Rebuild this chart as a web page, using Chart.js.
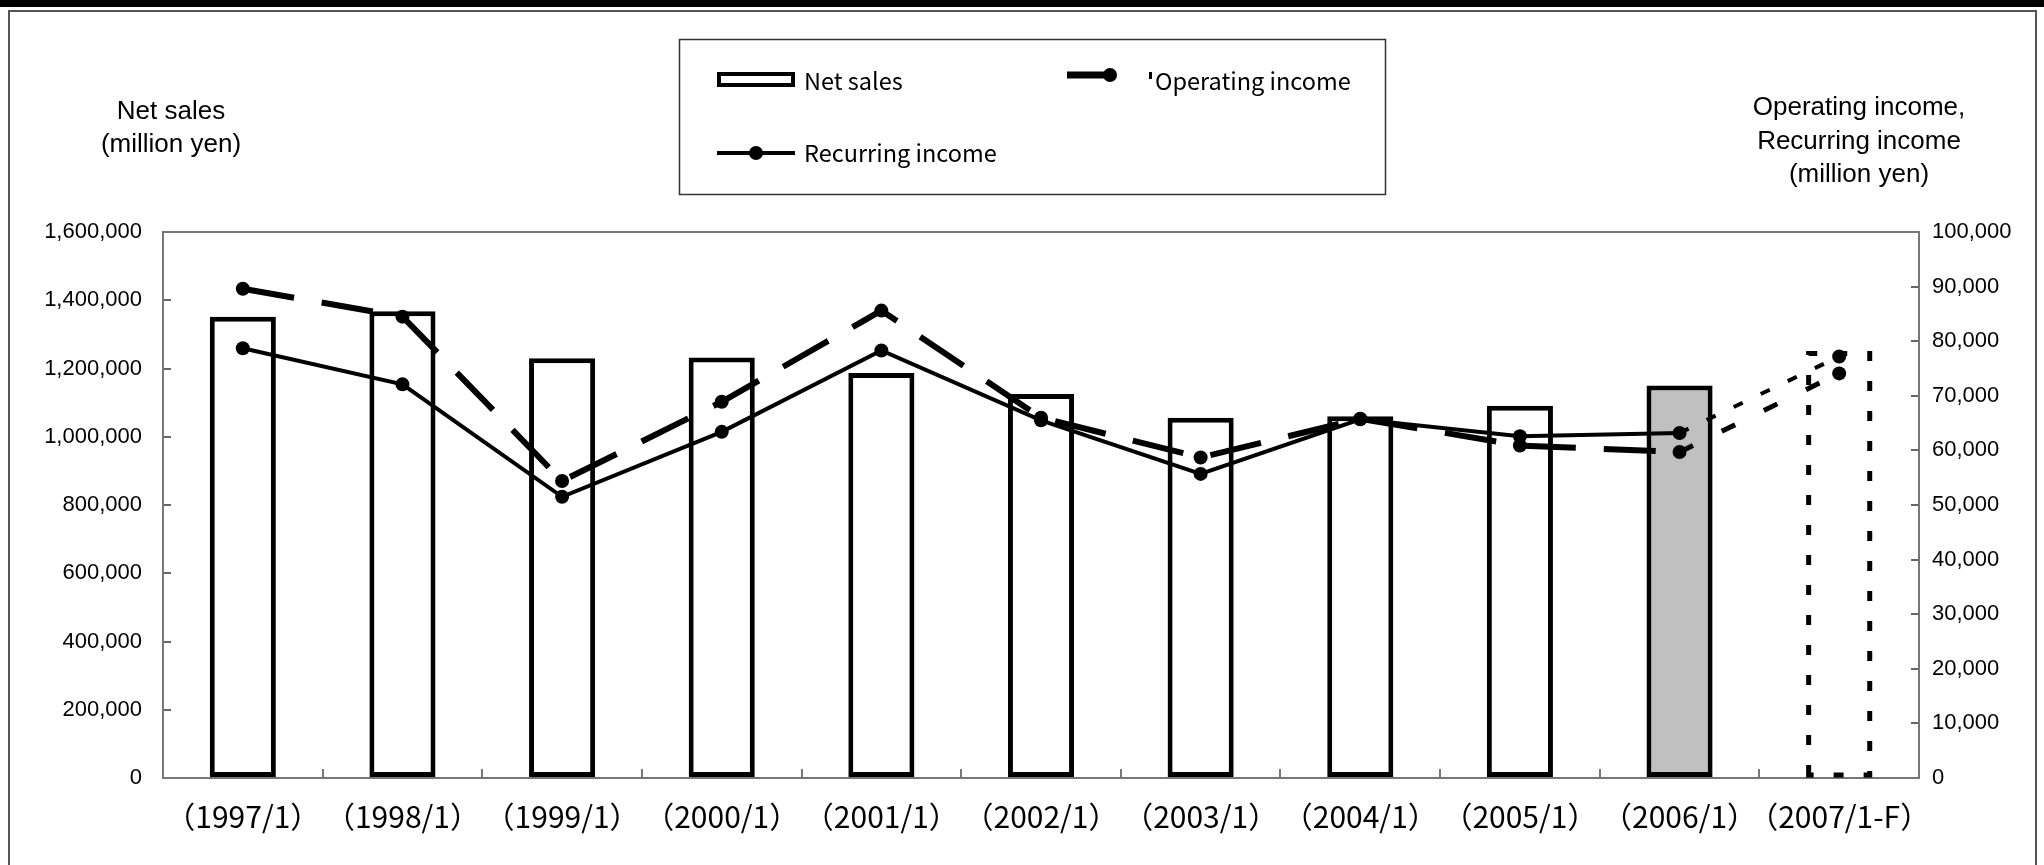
<!DOCTYPE html>
<html>
<head>
<meta charset="utf-8">
<script src="https://cdn.jsdelivr.net/npm/chart.js@4.4.0/dist/chart.umd.min.js"></script>
<style>
  html, body { margin: 0; padding: 0; background: #ffffff; }
  #wrap { position: relative; width: 2044px; height: 865px; }
  canvas { display: block; }
</style>
</head>
<body>
<div id="wrap"><canvas id="c" width="2044" height="865"></canvas></div>
<script>
// ---- data ----
const categories = ['（1997/1）', '（1998/1）', '（1999/1）', '（2000/1）', '（2001/1）', '（2002/1）',
                    '（2003/1）', '（2004/1）', '（2005/1）', '（2006/1）', '（2007/1-F）'];
const netSales        = [1352000, 1368000, 1230000, 1232000, 1187000, 1125000, 1056000, 1060000, 1091000, 1150000, 1251000];
const operatingIncome = [89600, 84500, 54400, 68900, 85600, 66000, 58700, 65800, 60900, 59700, 74100];
const recurringIncome = [78700, 72100, 51500, 63400, 78300, 65500, 55700, 65700, 62600, 63200, 77200];
const salesTicks  = [0, 200000, 400000, 600000, 800000, 1000000, 1200000, 1400000, 1600000];
const incomeTicks = [0, 10000, 20000, 30000, 40000, 50000, 60000, 70000, 80000, 90000, 100000];
const seriesNames = ['Net sales', 'Operating income', 'Recurring income'];
const leftTitle   = ['Net sales', '(million yen)'];
const rightTitle  = ['Operating income,', 'Recurring income', '(million yen)'];
const forecastIndex = 10;
const highlightIndex = 9;

const fmt = v => Number(v).toLocaleString('en-US');
const barFill = netSales.map((v, i) => i === highlightIndex ? '#c0c0c0' : (i === forecastIndex ? 'rgba(0,0,0,0)' : '#ffffff'));
const barEdge = netSales.map((v, i) => i === forecastIndex ? 'rgba(0,0,0,0)' : '#000000');

const TICK_FONT = { family: '"Liberation Sans", Arial, sans-serif', size: 22 };
const CJK = '"Noto Sans CJK JP", "Noto Sans", sans-serif';

const decorPlugin = {
  id: 'decor',
  beforeDraw(chart) {
    const ctx = chart.ctx;
    ctx.save();
    ctx.fillStyle = '#ffffff';
    ctx.fillRect(0, 0, chart.width, chart.height);
    // outer frame
    ctx.fillStyle = '#000000';
    ctx.fillRect(0, 0, chart.width, 7);
    ctx.strokeStyle = '#555555';
    ctx.lineWidth = 2;
    ctx.beginPath();
    ctx.moveTo(9, 865); ctx.lineTo(9, 11); ctx.lineTo(2036, 11); ctx.lineTo(2036, 865);
    ctx.stroke();
    ctx.restore();
  },
  afterDatasetDraw(chart, args) {
    if (args.index !== 0) return;
    const el = chart.getDatasetMeta(0).data[forecastIndex];
    if (!el) return;
    const p = el.getProps(['x', 'y', 'width', 'base'], true);
    const ctx = chart.ctx;
    const l = p.x - p.width / 2 + 2.5, r = p.x + p.width / 2 - 2.5;
    const t = p.y + 2.5, b = p.base - 2;
    ctx.save();
    ctx.strokeStyle = '#000000';
    ctx.lineWidth = 5;
    ctx.setLineDash([10, 20]);
    ctx.beginPath();
    ctx.moveTo(l, b); ctx.lineTo(l, t); ctx.lineTo(r, t); ctx.lineTo(r, b); ctx.closePath();
    ctx.stroke();
    ctx.restore();
  },
  afterDraw(chart) {
    const ctx = chart.ctx;
    const a = chart.chartArea;
    ctx.save();
    // top border of plot area
    ctx.strokeStyle = '#777777';
    ctx.lineWidth = 2;
    ctx.beginPath();
    ctx.moveTo(a.left, a.top); ctx.lineTo(a.right, a.top);
    ctx.stroke();

    // axis titles
    ctx.fillStyle = '#000000';
    ctx.font = '26px "Liberation Sans", Arial, sans-serif';
    ctx.textAlign = 'center';
    ctx.textBaseline = 'middle';
    ctx.fillText(leftTitle[0], 171, 112);
    ctx.fillText(leftTitle[1], 171, 145);
    ctx.fillText(rightTitle[0], 1859, 108);
    ctx.fillText(rightTitle[1], 1859, 142);
    ctx.fillText(rightTitle[2], 1859, 175);

    // legend box
    ctx.strokeStyle = '#333333';
    ctx.lineWidth = 1.5;
    ctx.strokeRect(679.5, 39.5, 706, 155);

    // Net sales symbol
    ctx.fillStyle = '#000000';
    ctx.fillRect(717, 72, 78, 15);
    ctx.fillStyle = '#ffffff';
    ctx.fillRect(721, 76, 70, 7);

    // Operating income symbol
    ctx.strokeStyle = '#000000';
    ctx.lineWidth = 7;
    ctx.beginPath(); ctx.moveTo(1067, 75); ctx.lineTo(1108, 75); ctx.stroke();
    ctx.fillStyle = '#000000';
    ctx.beginPath(); ctx.arc(1110, 75, 7, 0, Math.PI * 2); ctx.fill();
    ctx.fillRect(1149, 72, 3, 7);

    // Recurring income symbol
    ctx.lineWidth = 4;
    ctx.beginPath(); ctx.moveTo(717, 153); ctx.lineTo(795, 153); ctx.stroke();
    ctx.beginPath(); ctx.arc(756, 153, 7, 0, Math.PI * 2); ctx.fill();

    ctx.font = '23.5px ' + CJK;
    ctx.textAlign = 'left';
    ctx.textBaseline = 'middle';
    ctx.fillText(seriesNames[0], 804, 81);
    ctx.fillText(seriesNames[1], 1155, 81);
    ctx.fillText(seriesNames[2], 804, 153);
    ctx.restore();
  }
};

new Chart(document.getElementById('c'), {
  type: 'bar',
  data: {
    labels: categories,
    datasets: [
      {
        type: 'bar',
        label: seriesNames[0],
        data: netSales,
        yAxisID: 'y',
        backgroundColor: barFill,
        borderColor: barEdge,
        borderWidth: 5,
        borderSkipped: false,
        barPercentage: 1.0,
        categoryPercentage: 0.414,
        order: 3
      },
      {
        type: 'line',
        label: seriesNames[1],
        data: operatingIncome,
        yAxisID: 'y2',
        borderColor: '#000000',
        borderWidth: 6,
        borderDash: [52, 28],
        borderCapStyle: 'butt',
        pointRadius: 7,
        pointStyle: 'circle',
        pointBackgroundColor: '#000000',
        pointBorderWidth: 0,
        fill: false,
        tension: 0,
        order: 1,
        segment: {
          borderDash: ctx => ctx.p1DataIndex === forecastIndex ? [15, 32] : undefined,
          borderWidth: ctx => ctx.p1DataIndex === forecastIndex ? 5 : undefined
        }
      },
      {
        type: 'line',
        label: seriesNames[2],
        data: recurringIncome,
        yAxisID: 'y2',
        borderColor: '#000000',
        borderWidth: 4,
        borderCapStyle: 'butt',
        pointRadius: 7,
        pointStyle: 'circle',
        pointBackgroundColor: '#000000',
        pointBorderWidth: 0,
        fill: false,
        tension: 0,
        order: 2,
        segment: {
          borderDash: ctx => ctx.p1DataIndex === forecastIndex ? [10, 20] : undefined
        }
      }
    ]
  },
  options: {
    responsive: false,
    animation: false,
    devicePixelRatio: 1,
    layout: { padding: { top: 232, left: 0, right: 0, bottom: 0 } },
    plugins: { legend: { display: false }, tooltip: { enabled: false } },
    scales: {
      x: {
        type: 'category',
        offset: true,
        grid: { display: true, offset: true, drawOnChartArea: false, drawTicks: true, tickLength: -9, color: '#777777', lineWidth: 2 },
        border: { display: true, color: '#777777', width: 2 },
        ticks: { autoSkip: false, maxRotation: 0, minRotation: 0, padding: 30, color: '#000000',
                 font: { family: CJK, size: 30 } },
        afterFit: s => { s.height = 87; }
      },
      y: {
        type: 'linear',
        position: 'left',
        min: 0, max: 1600000,
        afterBuildTicks: s => { s.ticks = salesTicks.map(v => ({ value: v })); },
        grid: { display: true, drawOnChartArea: false, drawTicks: true, tickLength: -8, color: '#666666', lineWidth: 2 },
        border: { display: true, color: '#777777', width: 2 },
        ticks: { padding: 29, color: '#000000', font: TICK_FONT, callback: v => fmt(v) },
        afterFit: s => { s.width = 163; }
      },
      y2: {
        type: 'linear',
        position: 'right',
        min: 0, max: 100000,
        afterBuildTicks: s => { s.ticks = incomeTicks.map(v => ({ value: v })); },
        grid: { display: true, drawOnChartArea: false, drawTicks: true, tickLength: -8, color: '#666666', lineWidth: 2 },
        border: { display: true, color: '#777777', width: 2 },
        ticks: { padding: 21, color: '#000000', font: TICK_FONT, callback: v => fmt(v) },
        afterFit: s => { s.width = 125; }
      }
    }
  },
  plugins: [decorPlugin]
});
</script>
</body>
</html>
